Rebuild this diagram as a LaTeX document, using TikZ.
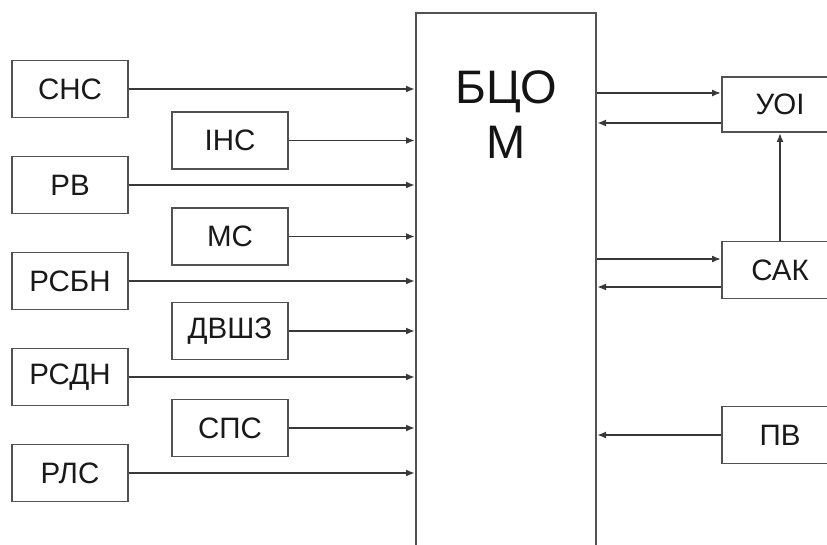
\documentclass[tikz,border=0pt]{standalone}
\usepackage{fontspec}
\setmainfont{Liberation Sans}
\usetikzlibrary{arrows.meta,calc}
\tikzset{
  blk/.style={draw=black!68, line width=1.9pt, fill=white, minimum width=116pt, minimum height=57pt, inner sep=0pt, font=\fontsize{29.5}{34}\selectfont, text=black!90},
  conn/.style={draw=black!78, line width=1.8pt, -{Latex[length=9pt,width=7pt]}},
}
\begin{document}
\begin{tikzpicture}[x=1pt,y=-1pt]
\useasboundingbox (0,0) rectangle (827,544);
\clip (0,0) rectangle (827,544);
% central block
\node[draw=black!68, line width=2pt, minimum width=180pt, minimum height=620pt, inner sep=0pt, anchor=north west] (bcom) at (415,12) {};
\node[font=\fontsize{47}{55}\selectfont, text=black!92, align=center, anchor=north] (bcomlbl) at (506,67) {БЦО\\М};
% left column
\node[blk] (sns) at (70,89) {СНС};
\node[blk] (rv) at (70,185) {РВ};
\node[blk] (rsbn) at (70,281) {РСБН};
\node[blk] (rsdn) at (70,377) {РСДН};
\node[blk] (rls) at (70,473) {РЛС};
% middle column
\node[blk] (ins) at (230,140.5) {ІНС};
\node[blk] (ms) at (230,236.5) {МС};
\node[blk] (dvsh) at (230,331) {ДВШЗ};
\node[blk] (sps) at (230,428) {СПС};
% right column
\node[blk, minimum height=55pt] (uoi) at (780,104.5) {УОІ};
\node[blk] (sak) at (780,270) {САК};
\node[blk] (pv) at (780,435) {ПВ};
% inputs to central block
\foreach \n in {sns,rv,rsbn,rsdn,rls,ins,ms,dvsh,sps}
  \draw[conn] (\n.east) -- (\n.east -| bcom.west);
% right side connections
\draw[conn] ([yshift=11.5pt]uoi.west -| bcom.east) -- ([yshift=11.5pt]uoi.west);
\draw[conn] ([yshift=-18.5pt]uoi.west) -- ([yshift=-18.5pt]uoi.west -| bcom.east);
\draw[conn] ([yshift=11pt]sak.west -| bcom.east) -- ([yshift=11pt]sak.west);
\draw[conn] ([yshift=-17pt]sak.west) -- ([yshift=-17pt]sak.west -| bcom.east);
\draw[conn] (pv.west) -- (pv.west -| bcom.east);
\draw[conn] (sak.north) -- (uoi.south);
\end{tikzpicture}
\end{document}
